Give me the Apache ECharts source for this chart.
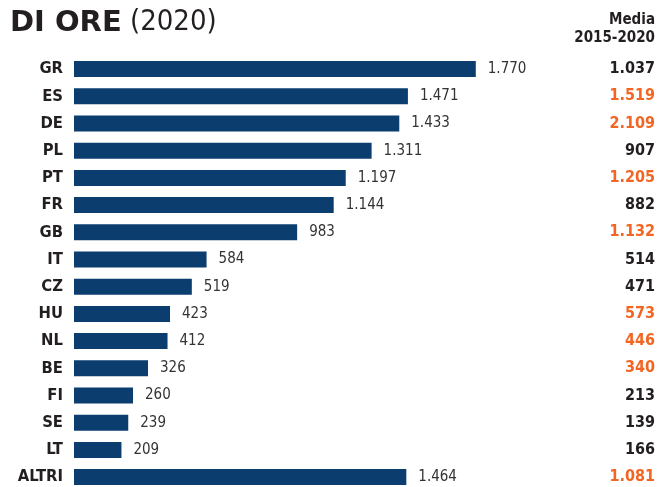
<!DOCTYPE html>
<html>
<head>
<meta charset="utf-8">
<script src="https://cdn.jsdelivr.net/npm/echarts@6/dist/echarts.min.js"></script>
<style>
  html, body { margin: 0; padding: 0; background: #fff; }
  #chart { width: 658px; height: 487px; }
</style>
</head>
<body>
<div id="chart"></div>
<script>
// Countries, 2020 values and the 2015-2020 average
const categories = ['GR', 'ES', 'DE', 'PL', 'PT', 'FR', 'GB', 'IT', 'CZ', 'HU', 'NL', 'BE', 'FI', 'SE', 'LT', 'ALTRI'];
const values2020 = [1770, 1471, 1433, 1311, 1197, 1144, 983, 584, 519, 423, 412, 326, 260, 239, 209, 1464];
const average2015_2020 = [1037, 1519, 2109, 907, 1205, 882, 1132, 514, 471, 573, 446, 340, 213, 139, 166, 1081];
// Rows whose average is shown in orange
const highlighted = ['ES', 'DE', 'PT', 'GB', 'HU', 'NL', 'BE', 'ALTRI'];

const FONT = '"Liberation Sans Narrow", "DejaVu Sans Condensed", "Open Sans", sans-serif';
const fmt = v => String(v).replace(/\B(?=(\d{3})+(?!\d))/g, '.');

const chart = echarts.init(document.getElementById('chart'), null, { renderer: 'canvas' });

chart.setOption({
  animation: false,
  backgroundColor: '#ffffff',
  grid: {
    left: 74, top: 55.5, width: 454, height: 435.2,
    containLabel: false, outerBoundsMode: 'none'
  },
  xAxis: {
    type: 'value', min: 0, max: 2000,
    show: false
  },
  yAxis: [
    {
      type: 'category', data: categories, inverse: true,
      axisLine: { show: false }, axisTick: { show: false },
      axisLabel: {
        margin: 11, color: '#231f20', fontSize: 16.5, fontWeight: 'bold', fontFamily: FONT
      }
    },
    {
      type: 'category', data: categories, inverse: true, position: 'right',
      axisLine: { show: false }, axisTick: { show: false },
      axisLabel: {
        align: 'right', margin: 127,
        formatter: (c, i) => {
          const v = fmt(average2015_2020[i]);
          return highlighted.includes(c) ? '{o|' + v + '}' : '{k|' + v + '}';
        },
        rich: {
          o: { color: '#f26522', fontSize: 16, fontWeight: 'bold', fontFamily: FONT },
          k: { color: '#231f20', fontSize: 16, fontWeight: 'bold', fontFamily: FONT }
        }
      }
    }
  ],
  series: [{
    type: 'bar',
    data: values2020,
    barWidth: 16,
    itemStyle: { color: '#0b3d6e' },
    label: {
      show: true, position: 'right', distance: 12,
      color: '#333333', fontSize: 15, fontFamily: FONT,
      formatter: p => fmt(p.value)
    }
  }],
  graphic: [
    {
      type: 'text', left: 10, top: 9,
      style: {
        text: 'DI ORE', fontSize: 29, fontWeight: 'bold', fill: '#231f20',
        fontFamily: '"DejaVu Sans", sans-serif'
      }
    },
    {
      type: 'text', left: 130, top: 8,
      style: {
        text: '(2020)', fontSize: 29, fill: '#231f20', fontFamily: FONT
      }
    },
    {
      type: 'text', right: 3, top: 13,
      style: {
        text: 'Media', fontSize: 15, fontWeight: 'bold', fill: '#231f20', fontFamily: FONT
      }
    },
    {
      type: 'text', right: 3, top: 31,
      style: {
        text: '2015-2020', fontSize: 15, fontWeight: 'bold', fill: '#231f20', fontFamily: FONT
      }
    }
  ]
});
</script>
</body>
</html>
